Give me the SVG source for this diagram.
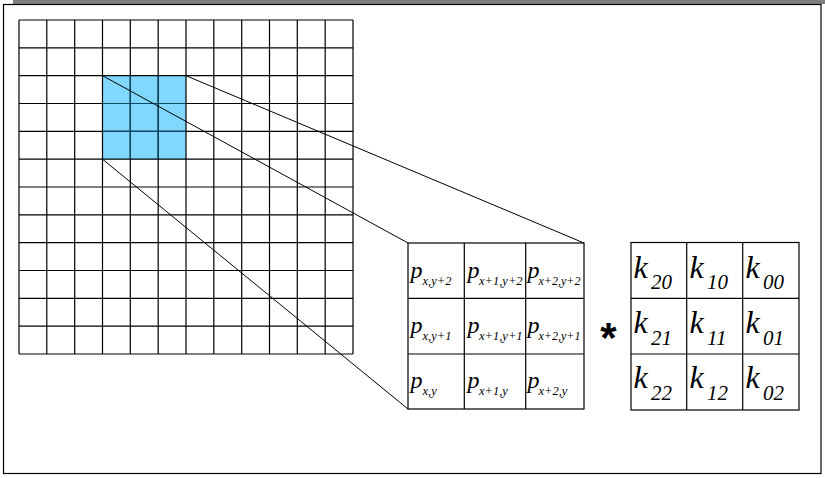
<svg xmlns="http://www.w3.org/2000/svg" width="825" height="478" viewBox="0 0 825 478">
<style>
.ln{stroke:#000;stroke-width:1.2;fill:none}
.cell{fill:#fff;stroke:#000;stroke-width:1.2}
.p{font-family:"Liberation Serif",serif;font-style:italic;font-size:24px;fill:#000}
.ps{font-family:"Liberation Serif",serif;font-style:italic;font-size:12.5px;fill:#000}
.k{font-family:"Liberation Serif",serif;font-style:italic;font-size:32px;fill:#000}
.ks{font-family:"Liberation Serif",serif;font-style:italic;font-size:21px;fill:#000}
.conn{stroke:#000;stroke-width:1;fill:none}
</style>
<rect x="0" y="0" width="825" height="478" fill="#fff"/>
<rect x="13" y="0" width="812" height="4" fill="#808080"/>
<rect x="3.5" y="4.5" width="817.5" height="469" fill="none" stroke="#000" stroke-width="1.2"/>

<g id="input-grid">
<rect x="19" y="20" width="334" height="334" fill="#fff"/>
<rect x="102.5" y="75.7" width="83.5" height="83.5" fill="#80d8ff"/>
<path class="ln" d="M19 20H353M19 47.8H353M19 75.7H353M19 103.5H353M19 131.3H353M19 159.2H353M19 187H353M19 214.8H353M19 242.7H353M19 270.5H353M19 298.3H353M19 326.2H353M19 354H353"/>
<path class="ln" d="M19 20V354M46.8 20V354M74.7 20V354M102.5 20V354M130.3 20V354M158.2 20V354M186 20V354M213.8 20V354M241.7 20V354M269.5 20V354M297.3 20V354M325.2 20V354M353 20V354"/>
<path d="M102.5 103.5H186M102.5 131.3H186M130.3 75.7V159.2M158.2 75.7V159.2" stroke="#0b4a66" stroke-width="1.2" fill="none"/>
</g>

<g id="connectors">
<line class="conn" x1="186" y1="75.7" x2="584" y2="243"/>
<line class="conn" x1="102.5" y1="75.7" x2="408" y2="243"/>
<line class="conn" x1="102.5" y1="159.2" x2="408" y2="409"/>
</g>

<g id="p-matrix">
<rect class="cell" x="408" y="243" width="176" height="166"/>
<path class="ln" d="M464.3 243V409M525.7 243V409M408 298.3H584M408 354H584"/>
<text class="p" x="410.5" y="278">p</text><text class="ps" x="422.5" y="285">x,y+2</text>
<text class="p" x="467.5" y="278">p</text><text class="ps" x="479" y="285">x+1,y+2</text>
<text class="p" x="527.5" y="278">p</text><text class="ps" x="538.5" y="285" textLength="42" lengthAdjust="spacingAndGlyphs">x+2,y+2</text>
<text class="p" x="410.5" y="333">p</text><text class="ps" x="422.5" y="340">x,y+1</text>
<text class="p" x="467.5" y="333">p</text><text class="ps" x="479" y="340">x+1,y+1</text>
<text class="p" x="527.5" y="333">p</text><text class="ps" x="538.5" y="340" textLength="42" lengthAdjust="spacingAndGlyphs">x+2,y+1</text>
<text class="p" x="410.5" y="388">p</text><text class="ps" x="422.5" y="395">x,y</text>
<text class="p" x="467.5" y="388">p</text><text class="ps" x="479" y="395">x+1,y</text>
<text class="p" x="527.5" y="388">p</text><text class="ps" x="538.5" y="395">x+2,y</text>
</g>

<g id="operator">
<text x="608.5" y="352" font-family="Liberation Sans,sans-serif" font-weight="bold" font-size="42" text-anchor="middle" fill="#000">*</text>
</g>

<g id="k-matrix">
<rect class="cell" x="631" y="242.5" width="168" height="167.5"/>
<path class="ln" d="M686.7 242.5V410M742.7 242.5V410M631 298.3H799M631 354H799"/>
<text class="k" x="633.5" y="278">k</text><text class="ks" x="651" y="289">20</text>
<text class="k" x="689.5" y="278">k</text><text class="ks" x="707" y="289">10</text>
<text class="k" x="745.5" y="278">k</text><text class="ks" x="763" y="289">00</text>
<text class="k" x="633.5" y="333">k</text><text class="ks" x="651" y="345">21</text>
<text class="k" x="689.5" y="333">k</text><text class="ks" x="707" y="345">11</text>
<text class="k" x="745.5" y="333">k</text><text class="ks" x="763" y="345">01</text>
<text class="k" x="633.5" y="388">k</text><text class="ks" x="651" y="400">22</text>
<text class="k" x="689.5" y="388">k</text><text class="ks" x="707" y="400">12</text>
<text class="k" x="745.5" y="388">k</text><text class="ks" x="763" y="400">02</text>
</g>
</svg>
